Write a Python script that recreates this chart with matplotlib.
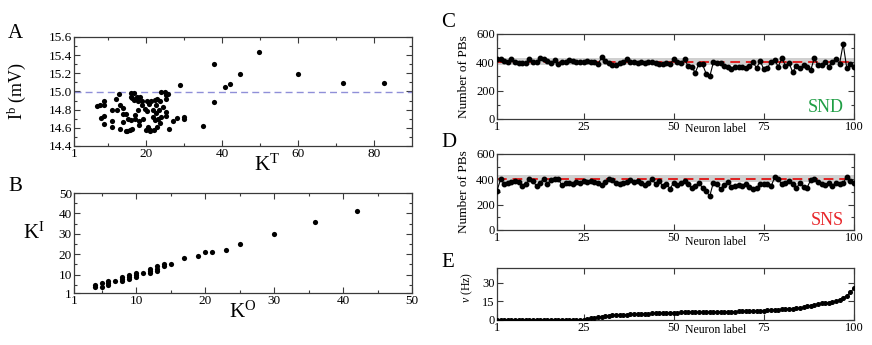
import matplotlib
matplotlib.use("Agg")
import matplotlib.pyplot as plt
from matplotlib.ticker import FixedLocator, MultipleLocator, FormatStrFormatter

plt.rcParams['font.family'] = ['Liberation Serif', 'DejaVu Serif']
plt.rcParams['mathtext.fontset'] = 'custom'
plt.rcParams['mathtext.rm'] = 'Liberation Serif'
plt.rcParams['mathtext.it'] = 'Liberation Serif:italic'

# ---------------- Data ----------------
# Panel A: total degree K^T vs bias current I^b
kt_vals = [7.8, 8.0, 9.0, 9.0, 9.0, 9.0, 10.9, 11.1, 11.1, 12.0, 12.2, 12.9, 13.1, 13.1,
           13.8, 14.0, 14.0, 14.7, 14.8, 15.1, 15.7, 15.9, 16.1, 16.1, 16.2, 16.3, 16.8,
           16.8, 17.0, 17.1, 17.5, 17.9, 17.9, 18.0, 18.1, 18.3, 18.8, 19.0, 19.2, 19.6,
           19.9, 20.1, 20.3, 20.5, 20.8, 20.9, 21.4, 21.7, 21.8, 22.0, 22.3, 22.3, 22.5,
           22.7, 22.9, 22.9, 23.1, 23.4, 23.6, 23.6, 24.0, 24.0, 24.4, 24.9, 25.1, 25.1,
           25.3, 25.3, 25.8, 26.0, 27.1, 28.0, 29.0, 29.9, 29.9, 34.9, 37.8, 37.8, 40.8,
           42.0, 44.8, 49.8, 59.9, 71.7, 82.6, 7.1, 15.0, 21.0]
ib_vals = [14.85, 14.71, 14.89, 14.85, 14.73, 14.64, 14.80, 14.68, 14.61, 14.92, 14.80,
           14.97, 14.85, 14.59, 14.82, 14.75, 14.66, 14.75, 14.56, 14.70, 14.58, 14.69,
           14.98, 14.94, 14.93, 14.59, 14.98, 14.91, 14.74, 14.70, 14.94, 14.89, 14.80,
           14.67, 14.63, 14.94, 14.85, 14.90, 14.70, 14.81, 14.58, 14.78, 14.89, 14.61,
           14.86, 14.58, 14.89, 14.72, 14.80, 14.58, 14.91, 14.69, 14.76, 14.85, 14.92,
           14.61, 14.70, 14.80, 14.89, 14.65, 15.00, 14.72, 14.83, 15.00, 14.96, 14.73,
           14.92, 14.77, 14.97, 14.59, 14.67, 14.71, 15.07, 14.72, 14.70, 14.62, 15.30,
           14.88, 15.05, 15.08, 15.19, 15.43, 15.19, 15.09, 15.09, 14.84, 14.57, 14.57]
ib_ref = 15.0

# Panel B: out-degree vs in-degree
ko_vals = [4, 4, 5, 5, 6, 6, 6, 7, 8, 8, 8, 9, 9, 9, 10, 10, 10, 11, 12, 12, 12, 13, 13,
           13, 14, 14, 15, 17, 19, 20, 21, 23, 25, 30, 36, 42]
ki_vals = [4, 5, 4, 6, 5, 6, 7, 7, 7, 8, 9, 8, 9, 10, 9, 10, 11, 11, 11, 12, 13, 12, 13,
           14, 14, 15, 15, 18, 19, 21, 21, 22, 25, 30, 36, 41]

# Panels C, D, E: per neuron
neuron = list(range(1, 101))
pb_snd = [425, 420, 410, 400, 420, 405, 395, 398, 395, 420,
          405, 405, 430, 420, 410, 395, 415, 390, 405, 400,
          415, 410, 400, 405, 400, 410, 405, 400, 385, 435,
          410, 395, 380, 380, 395, 400, 420, 405, 400, 395,
          400, 395, 405, 400, 395, 390, 385, 395, 390, 420,
          405, 395, 420, 375, 365, 328, 390, 385, 320, 300,
          400, 395, 395, 375, 370, 355, 365, 365, 370, 360,
          375, 400, 360, 410, 350, 360, 405, 415, 370, 430,
          375, 395, 330, 375, 360, 380, 370, 345, 430, 380,
          380, 405, 370, 405, 420, 390, 530, 358, 388, 365]
pb_sns = [310, 400, 365, 375, 380, 390, 380, 350, 360, 400,
          385, 345, 375, 405, 365, 395, 400, 400, 355, 370,
          375, 365, 380, 370, 385, 380, 385, 380, 375, 355,
          380, 405, 395, 375, 365, 375, 380, 395, 380, 385,
          370, 355, 375, 400, 360, 385, 345, 365, 325, 375,
          355, 370, 385, 360, 330, 345, 375, 330, 305, 268,
          375, 360, 325, 355, 380, 340, 350, 355, 350, 365,
          340, 325, 330, 365, 360, 365, 345, 415, 400, 360,
          375, 385, 360, 330, 370, 340, 335, 395, 405, 380,
          360, 355, 370, 350, 375, 365, 370, 420, 390, 375]
pb_ref = 405
pb_band = (381, 432)
rate = [0, 0, 0, 0, 0, 0, 0, 0, 0, 0, 0, 0, 0, 0, 0, 0, 0, 0, 0, 0, 0, 0, 0, 0,
        0.3, 1.0, 1.5, 2.0, 2.4, 2.8, 3.2, 3.6, 4.0, 4.1, 4.2, 4.3, 4.4, 4.5, 4.7, 4.9,
        5.0, 5.1, 5.2, 5.3, 5.4, 5.5, 5.6, 5.7, 5.8, 5.9, 6.0, 6.1, 6.1, 6.2, 6.2, 6.3,
        6.3, 6.4, 6.4, 6.5, 6.5, 6.6, 6.6, 6.7, 6.7, 6.8, 6.8, 6.9, 6.9, 7.0, 7.1, 7.2,
        7.3, 7.4, 7.5, 7.8, 8.0, 8.2, 8.4, 8.6, 8.8, 9.0, 9.2, 9.4, 9.7, 10.3, 11.0,
        11.7, 12.3, 13.0, 13.5, 13.8, 14.0, 14.3, 15.0, 16.5, 17.8, 19.5, 22.5, 25.5]

# ---------------- Figure ----------------
W, H = 872, 345
fig = plt.figure(figsize=(W / 100, H / 100), dpi=100)

def rect(l, t, r, b):
    return [l / W, 1 - b / H, (r - l) / W, (b - t) / H]

spine_c = '#3a3a3a'

def style(ax, fs):
    for s in ax.spines.values():
        s.set_color(spine_c)
        s.set_linewidth(0.9)
    ax.tick_params(which='both', direction='in', top=True, right=True,
                   colors=spine_c, labelcolor='black', labelsize=fs, width=0.8, pad=1.5)
    ax.tick_params(which='major', length=4)
    ax.tick_params(which='minor', length=2.5)

# Panel A
axA = fig.add_axes(rect(74, 37, 412, 146))
axA.scatter(kt_vals, ib_vals, s=14, color='black', zorder=3, linewidths=0)
axA.axhline(ib_ref, color='#8f8fd8', lw=1.0, ls=(0, (5, 3)))
axA.set_xlim(1, 90)
axA.set_ylim(14.4, 15.6)
axA.xaxis.set_major_locator(FixedLocator([1, 20, 40, 60, 80]))
axA.xaxis.set_minor_locator(FixedLocator([10, 30, 50, 70]))
axA.yaxis.set_major_locator(MultipleLocator(0.2))
axA.yaxis.set_minor_locator(MultipleLocator(0.1))
axA.yaxis.set_major_formatter(FormatStrFormatter('%.1f'))
style(axA, 9.5)
axA.set_xlabel(r'$\mathrm{K}^{\mathrm{T}}$', fontsize=15)
axA.xaxis.set_label_coords(0.57, -0.08)
axA.set_ylabel(r'$\mathrm{I}^{\mathrm{b}}$ (mV)', fontsize=13)
axA.yaxis.set_label_coords(-0.135, 0.5)

# Panel B
axB = fig.add_axes(rect(74, 193, 412, 293))
axB.scatter(ko_vals, ki_vals, s=14, color='black', zorder=3, linewidths=0)
axB.set_xlim(1, 50)
axB.set_ylim(1, 50)
axB.xaxis.set_major_locator(FixedLocator([1, 10, 20, 30, 40, 50]))
axB.xaxis.set_minor_locator(FixedLocator([5, 15, 25, 35, 45]))
axB.yaxis.set_major_locator(FixedLocator([1, 10, 20, 30, 40, 50]))
axB.yaxis.set_minor_locator(FixedLocator([5, 15, 25, 35, 45]))
style(axB, 9.5)
axB.set_xlabel(r'$\mathrm{K}^{\mathrm{O}}$', fontsize=15)
axB.xaxis.set_label_coords(0.5, -0.09)
axB.set_ylabel(r'$\mathrm{K}^{\mathrm{I}}$', fontsize=15, rotation=0, va='center')
axB.yaxis.set_label_coords(-0.12, 0.6)

# Panels C and D
def pb_panel(box, vals, label, lcolor, ly, nly):
    ax = fig.add_axes(rect(*box))
    ax.axhspan(pb_band[0], pb_band[1], color='#d0d0d0', lw=0, zorder=1)
    ax.axhline(pb_ref, color='#e02020', lw=1.4, ls=(0, (5, 3)), zorder=2)
    ax.plot(neuron, vals, color='black', lw=0.8, marker='o', ms=3.2, zorder=3)
    ax.set_xlim(1, 100)
    ax.set_ylim(0, 600)
    ax.xaxis.set_major_locator(FixedLocator([1, 25, 50, 75, 100]))
    ax.yaxis.set_major_locator(MultipleLocator(200))
    ax.yaxis.set_minor_locator(MultipleLocator(100))
    style(ax, 9)
    ax.set_ylabel('Number of PBs', fontsize=9.5)
    ax.yaxis.set_label_coords(-0.075, 0.5)
    ax.set_xlabel('Neuron label', fontsize=8.5)
    ax.xaxis.set_label_coords(0.613, nly)
    ax.text(0.972, ly, label, transform=ax.transAxes, ha='right', va='baseline',
            color=lcolor, fontsize=13)
    return ax

axC = pb_panel((497, 34, 854, 119), pb_snd, 'SND', '#1f9e45', 0.085, -0.05)
axD = pb_panel((497, 154, 854, 230), pb_sns, 'SNS', '#e8262a', 0.07, -0.08)

# Panel E
axE = fig.add_axes(rect(497, 268, 854, 320))
axE.plot(neuron, rate, color='black', lw=0.8, marker='o', ms=2.6, zorder=3)
axE.set_xlim(1, 100)
axE.set_ylim(0, 42)
axE.xaxis.set_major_locator(FixedLocator([1, 25, 50, 75, 100]))
axE.yaxis.set_major_locator(FixedLocator([0, 15, 30]))
style(axE, 9)
axE.set_ylabel(r'$\nu$ (Hz)', fontsize=8.5)
axE.yaxis.set_label_coords(-0.062, 0.62)
axE.set_xlabel('Neuron label', fontsize=8.5)
axE.xaxis.set_label_coords(0.613, -0.08)

# Panel letters
for letter, x, y in [('A', 8, 38), ('B', 8, 191), ('C', 441, 27), ('D', 441, 147), ('E', 441, 267)]:
    fig.text(x / W, 1 - y / H, letter, fontsize=15, va='baseline', ha='left')

fig.savefig('out.png', dpi=100)
